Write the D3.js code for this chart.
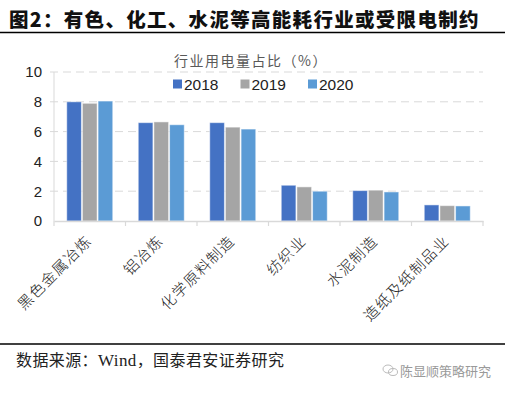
<!DOCTYPE html>
<html><head><meta charset="utf-8">
<script src="https://cdn.jsdelivr.net/npm/d3@7"></script>
<style>
html,body{margin:0;padding:0;background:#fff;}
svg{display:block;}
</style></head>
<body>
<svg id="c" width="510" height="393"></svg>
<script>
const categories = ["黑色金属冶炼","铝冶炼","化学原料制造","纺织业","水泥制造","造纸及纸制品业"];
const years = ["2018","2019","2020"];
const v2018 = [8.0, 6.6, 6.6, 2.4, 2.04, 1.08];
const v2019 = [7.9, 6.65, 6.3, 2.29, 2.07, 1.03];
const v2020 = [8.05, 6.46, 6.17, 2.0, 1.95, 1.01];
const yTicks = [0,2,4,6,8,10];
const colors = ["#4472C4","#A5A5A5","#5B9BD5"];

const series = [v2018, v2019, v2020];
const svg = d3.select("#c");
const cjk = "'Noto Sans CJK SC', 'Noto Sans', sans-serif";
const lat = "'Liberation Sans', Arial, sans-serif";
const serif = "'Liberation Serif', 'Times New Roman', serif";

// Title
svg.append("text").attr("x", 9).attr("y", 27)
  .attr("font-family", cjk).attr("font-weight", 900).attr("font-size", 19.5)
  .attr("letter-spacing", 1.3)
  .attr("fill", "#111").text("图2：有色、化工、水泥等高能耗行业或受限电制约");
svg.append("line").attr("x1",0).attr("x2",505).attr("y1",32.5).attr("y2",32.5)
  .attr("stroke","#000").attr("stroke-width",1.3);

const x = d3.scaleBand().domain(categories).range([54,483]).padding(0);
const x1 = d3.scaleBand().domain(years).range([0, 47]).padding(0);
const y = d3.scaleLinear().domain([0,10]).range([221,72]);

// gridlines
svg.append("g").selectAll("line").data(yTicks.filter(d=>d>0)).join("line")
  .attr("x1",50).attr("x2",483)
  .attr("y1",d=>y(d)).attr("y2",d=>y(d))
  .attr("stroke","#D9D9D9").attr("stroke-width",1).attr("stroke-dasharray","8,5");

// y axis line
svg.append("line").attr("x1",54).attr("x2",54).attr("y1",y(10)).attr("y2",y(0))
  .attr("stroke","#D9D9D9");

// y tick labels
const yAxis = d3.axisLeft(y).tickValues(yTicks).tickSize(0).tickPadding(12);
const gy = svg.append("g").attr("transform","translate(54,0)").call(yAxis);
gy.select(".domain").remove();
gy.selectAll("text").attr("font-family",lat).attr("font-size",15).attr("fill","#222");

// bars
const groups = svg.append("g").selectAll("g").data(categories).join("g")
  .attr("transform", c => `translate(${x(c) + (x.bandwidth()-47)/2},0)`);
groups.selectAll("rect").data((c,i)=>years.map((yr,j)=>({yr, v: series[j][i], j})))
  .join("rect")
  .attr("x", d=>x1(d.yr)+0.5)
  .attr("width", x1.bandwidth()-1)
  .attr("y", d=>y(d.v))
  .attr("height", d=>y(0)-y(d.v))
  .attr("fill", d=>colors[d.j])
  .attr("stroke","#ffffff").attr("stroke-opacity",0.5).attr("stroke-width",1);

// x axis
const xAxis = d3.axisBottom(x).tickSize(0).tickFormat("");
const gx = svg.append("g").attr("transform",`translate(0,${y(0)})`).call(xAxis);
gx.select(".domain").attr("stroke","#D9D9D9").attr("stroke-width",1.5);
const bounds = categories.map(c=>x(c)).concat([x.range()[1]]);
svg.append("g").selectAll("line").data(bounds).join("line")
  .attr("x1",d=>d).attr("x2",d=>d).attr("y1",y(0)).attr("y2",y(0)+5)
  .attr("stroke","#D9D9D9").attr("stroke-width",1.2);

// x labels
svg.append("g").selectAll("text").data(categories).join("text")
  .attr("transform", c => `translate(${x(c)+x.bandwidth()/2+3},${242}) rotate(-45)`)
  .attr("text-anchor","end")
  .attr("font-family",cjk).attr("font-size",15).attr("font-weight",300)
  .attr("letter-spacing",1.2).attr("fill","#222")
  .text(c=>c);

// chart title
svg.append("text").attr("x",251).attr("y",66).attr("text-anchor","middle")
  .attr("font-family",cjk).attr("font-size",14).attr("fill","#595959")
  .attr("letter-spacing",1.5)
  .text("行业用电量占比（%）");

// legend
const lg = svg.append("g").selectAll("g").data(years).join("g")
  .attr("transform",(d,i)=>`translate(${173 + i*67.5},84)`);
lg.append("rect").attr("x",0).attr("y",-4.5).attr("width",9).attr("height",9)
  .attr("fill",(d,i)=>colors[i]);
lg.append("text").attr("x",11).attr("y",5.5)
  .attr("font-family",lat).attr("font-size",15.5).attr("fill","#222").text(d=>d);

// footer
svg.append("line").attr("x1",0).attr("x2",505).attr("y1",344).attr("y2",344)
  .attr("stroke","#000").attr("stroke-width",1.3);
const src = svg.append("text").attr("x",16).attr("y",366)
  .attr("font-family",cjk).attr("font-size",16).attr("letter-spacing",0.4).attr("fill","#222");
src.append("tspan").text("数据来源：");
src.append("tspan").attr("font-family",serif).attr("font-size",17).text("Wind");
src.append("tspan").text("，国泰君安证券研究");
svg.append("text").attr("x",400).attr("y",376)
  .attr("font-family",cjk).attr("font-size",13).attr("fill","#9a9a9a")
  .text("陈显顺策略研究");
// small icon
const ic = svg.append("g").attr("transform","translate(390,370)").attr("fill","none").attr("stroke","#bbb").attr("stroke-width",1);
ic.append("ellipse").attr("cx",-2).attr("cy",-1).attr("rx",5).attr("ry",4);
ic.append("ellipse").attr("cx",3).attr("cy",2).attr("rx",4.5).attr("ry",3.5);
</script>
</body></html>
